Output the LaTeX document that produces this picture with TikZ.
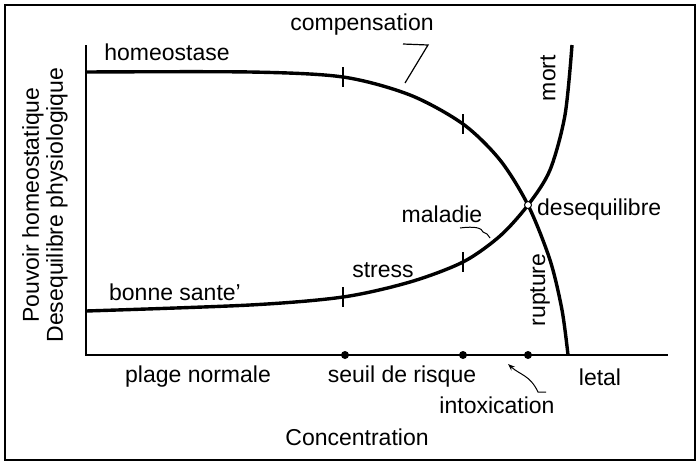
\documentclass[tikz,border=0pt]{standalone}
\usepackage{fontspec}
\setmainfont{Liberation Sans}
\usetikzlibrary{arrows.meta}
\begin{document}
\begin{tikzpicture}[x=1pt,y=-1pt,
  lbl/.style={font=\fontsize{23}{27}\selectfont,inner sep=0pt},
  curve/.style={line width=3.4pt},
  tick/.style={line width=1.6pt},
  dot/.style={circle,fill=black,inner sep=0pt,minimum size=8pt}]
\useasboundingbox (0,0) rectangle (700,466);
\draw[line width=2.2pt] (5,5) rectangle (695,460);
% axes
\coordinate (yt) at (86,45); \coordinate (o) at (86,355); \coordinate (xe) at (668,355);
\draw[line width=2.4pt] (yt) -- (o) -- (xe);
% curves
\coordinate (X) at (528,205);
\draw[curve] plot[smooth,tension=0.5] coordinates {(86,72) (250,72) (343,77) (410,95) (463,124) (500,160) (528,205) (550,260) (562,310) (568,355)};
\draw[curve] plot[smooth,tension=0.5] coordinates {(86,311) (250,305) (343,297) (410,282) (463,262) (500,236) (528,205) (550,170) (565,115) (572,45)};
\draw[line width=1pt,fill=white] (X) circle (3.5pt);
% ticks
\draw[tick] (343,67) -- (343,87);
\draw[tick] (463,114) -- (463,134);
\draw[tick] (343,287) -- (343,307);
\draw[tick] (463,252) -- (463,272);
% dots
\node[dot] (d1) at (345,355) {};
\node[dot] (d2) at (463,355) {};
\node[dot] (d3) at (528,355) {};
% labels
\node[lbl] (ho) at (167,52) {homeostase};
\node[lbl] (co) at (362,25) {compensation};
\draw[line width=1.2pt] (403,44) -- (428,45) -- (405,83);
\node[lbl,rotate=90] (mo) at (548,78) {mort};
\node[lbl,anchor=west] (de) at (537,210) {desequilibre};
\node[lbl] (ma) at (442,214) {maladie};
\draw[line width=1pt] (460,228) .. controls (475,226) and (482,228) .. (483,232) -- (487,234) -- (490,238);
\node[lbl] (st) at (383,270) {stress};
\node[lbl] (bs) at (175,292) {bonne sante'};
\node[lbl,rotate=90] (ru) at (540,290) {rupture};
\node[lbl] (pn) at (198,377) {plage normale};
\node[lbl] (sr) at (402,377) {seuil de risque};
\node[lbl] (in) at (497,405) {intoxication};
\node[lbl] (le) at (600,377) {letal};
\draw[line width=1pt,-{Stealth[length=7pt]}] (546,392) -- (538,392) .. controls (530,375) and (520,375) .. (508,364);
\node[lbl] (cn) at (357,437) {Concentration};
\node[lbl,rotate=90,align=center,font=\fontsize{23}{24}\selectfont] (yl) at (45,205) {Pouvoir homeostatique\\Desequilibre physiologique};
\end{tikzpicture}
\end{document}
